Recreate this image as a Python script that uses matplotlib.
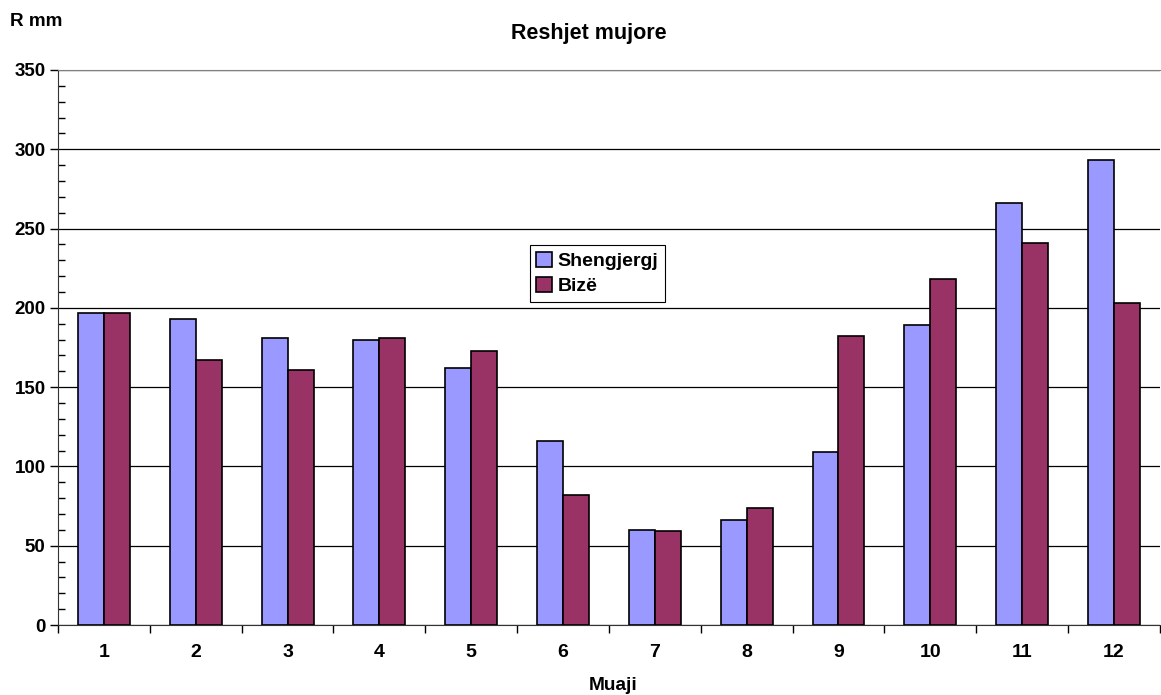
import numpy as np
import matplotlib
matplotlib.use("Agg")
import matplotlib.pyplot as plt
from matplotlib.ticker import MultipleLocator

# --- data ---
months = ['1', '2', '3', '4', '5', '6', '7', '8', '9', '10', '11', '12']
shengjergj = [197, 193, 181, 180, 162, 116, 60, 66, 109, 189, 266, 293]
bize = [197, 167, 161, 181, 173, 82, 59, 74, 182, 218, 241, 203]

plt.rcParams['font.family'] = ['Liberation Sans', 'DejaVu Sans']
plt.rcParams['font.weight'] = 'bold'

fig = plt.figure(figsize=(11.61, 6.95), dpi=100)
ax = fig.add_axes([0.05, 0.1007, 0.949, 0.7986])

x = np.arange(len(months))
w = 0.283
ax.bar(x - w / 2, shengjergj, w, color='#9999FF', edgecolor='black', linewidth=1.2,
       label='Shengjergj', zorder=3)
ax.bar(x + w / 2, bize, w, color='#993366', edgecolor='black', linewidth=1.2,
       label='Bizë', zorder=3)

ax.set_xlim(-0.5, len(months) - 0.5)
ax.set_ylim(0, 350)

# y axis: major every 50, minor every 10 (inward)
ax.yaxis.set_major_locator(MultipleLocator(50))
ax.yaxis.set_minor_locator(MultipleLocator(10))
ax.tick_params(axis='y', which='major', direction='out', length=6, width=1,
               labelsize=13.5, pad=3)
ax.tick_params(axis='y', which='minor', direction='in', length=5, width=1)
for lbl in ax.get_yticklabels():
    lbl.set_fontweight('bold')

# x axis: ticks at category borders, labels at centres
ax.set_xticks(np.arange(-0.5, len(months), 1))
ax.set_xticklabels([])
ax.set_xticks(x, minor=True)
ax.set_xticklabels(months, minor=True, fontsize=14, fontweight='bold')
ax.tick_params(axis='x', which='major', direction='out', length=6, width=1)
ax.tick_params(axis='x', which='minor', length=0, pad=14)

ax.grid(axis='y', which='major', color='black', linewidth=0.9, zorder=0)
ax.set_axisbelow(True)

ax.spines['right'].set_visible(False)
ax.spines['top'].set_color('#808080')
ax.spines['left'].set_color('#333333')
ax.spines['bottom'].set_color('#333333')

fig.text(0.507, 0.952, 'Reshjet mujore', ha='center', va='center',
         fontsize=15.5, fontweight='bold')
fig.text(0.009, 0.969, 'R mm', ha='left', va='center',
         fontsize=13.6, fontweight='bold')
fig.text(0.528, 0.014, 'Muaji', ha='center', va='center',
         fontsize=13.8, fontweight='bold')

leg = ax.legend(loc='upper left', bbox_to_anchor=(0.428, 0.685), borderaxespad=0,
                fancybox=False, edgecolor='black', framealpha=1,
                prop={'size': 14, 'weight': 'bold'},
                handlelength=0.8, handleheight=0.8, handletextpad=0.3,
                labelspacing=0.35, borderpad=0.35)
leg.get_frame().set_linewidth(0.8)

fig.savefig('out.png', dpi=100)
